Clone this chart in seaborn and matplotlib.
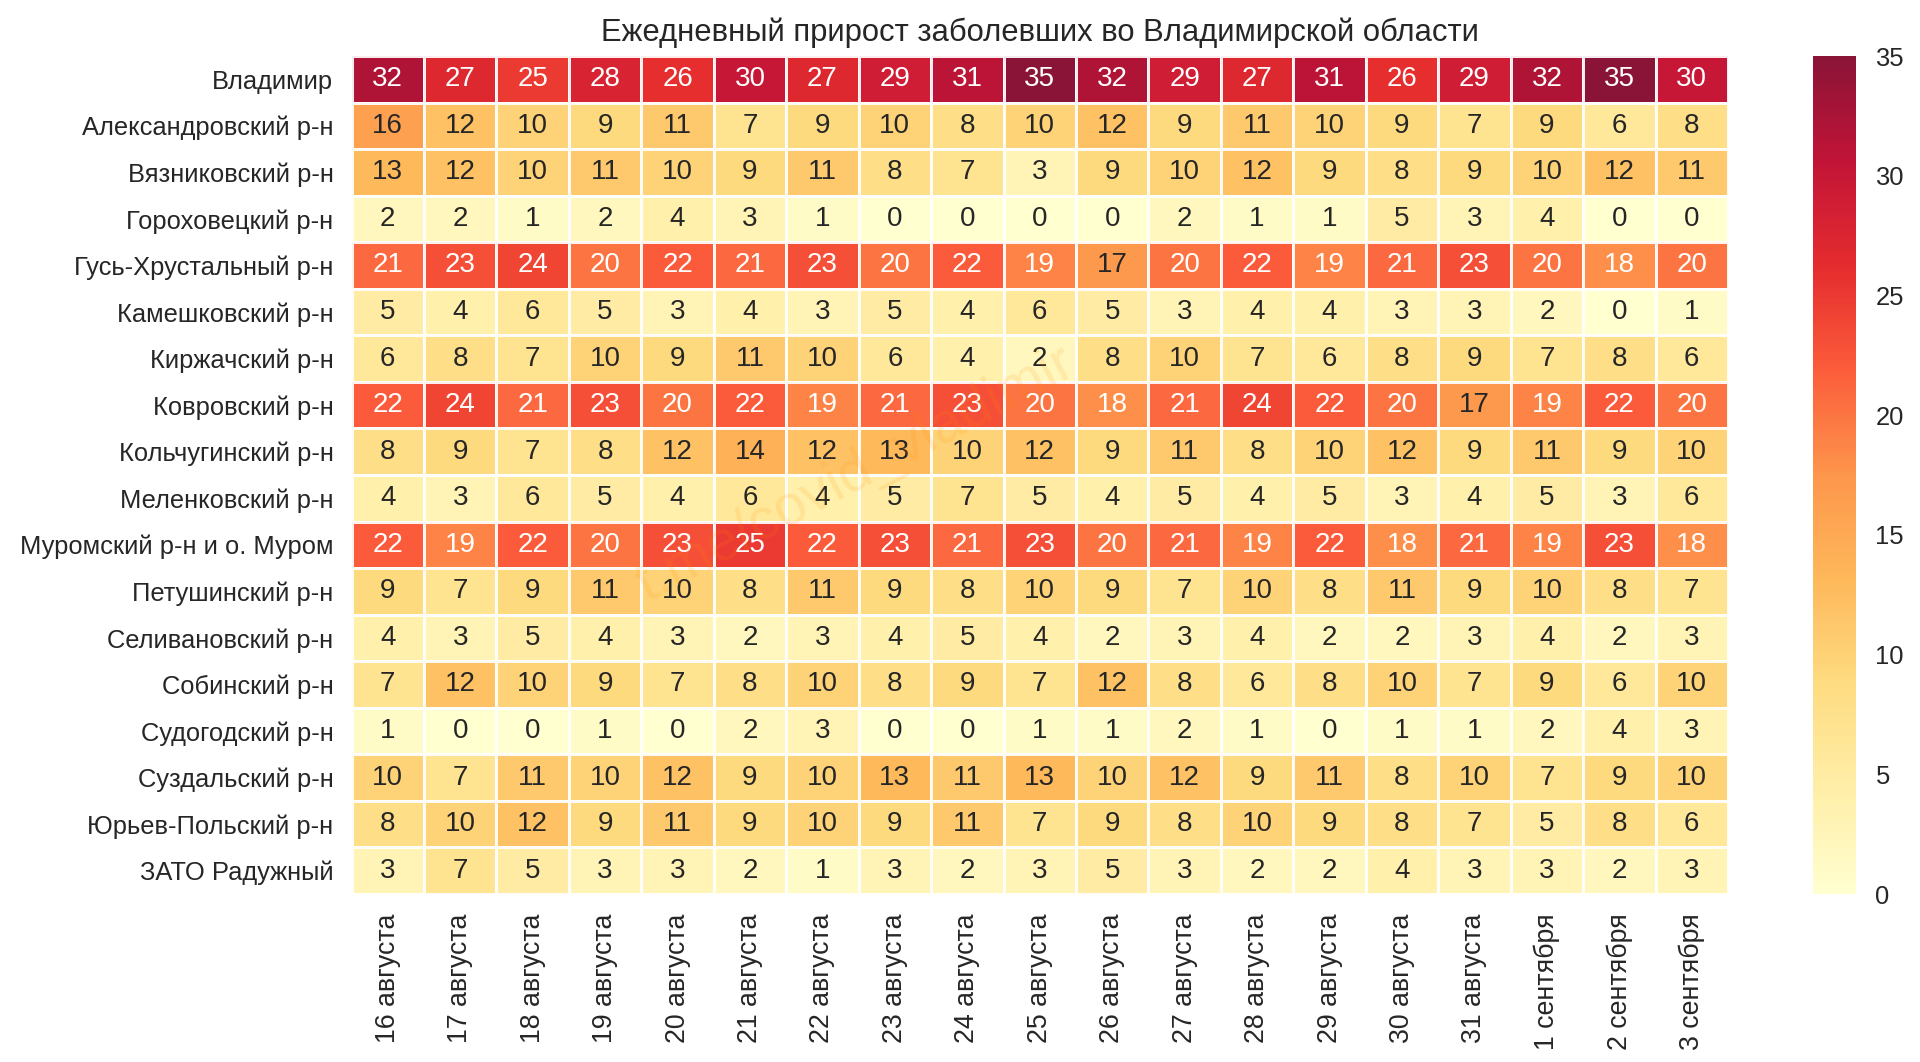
import numpy as np
import pandas as pd
import seaborn as sns
import matplotlib
matplotlib.use("Agg")
import matplotlib.pyplot as plt
from matplotlib.transforms import ScaledTranslation

districts = ["Владимир", "Александровский р-н", "Вязниковский р-н", "Гороховецкий р-н",
             "Гусь-Хрустальный р-н", "Камешковский р-н", "Киржачский р-н", "Ковровский р-н",
             "Кольчугинский р-н", "Меленковский р-н", "Муромский р-н и о. Муром",
             "Петушинский р-н", "Селивановский р-н", "Собинский р-н", "Судогодский р-н",
             "Суздальский р-н", "Юрьев-Польский р-н", "ЗАТО Радужный"]
dates = ["16 августа", "17 августа", "18 августа", "19 августа", "20 августа", "21 августа",
         "22 августа", "23 августа", "24 августа", "25 августа", "26 августа", "27 августа",
         "28 августа", "29 августа", "30 августа", "31 августа", "1 сентября", "2 сентября",
         "3 сентября"]

vladimir = [32,27,25,28,26,30,27,29,31,35,32,29,27,31,26,29,32,35,30]
aleksandrov = [16,12,10,9,11,7,9,10,8,10,12,9,11,10,9,7,9,6,8]
vyazniki = [13,12,10,11,10,9,11,8,7,3,9,10,12,9,8,9,10,12,11]
gorokhovets = [2,2,1,2,4,3,1,0,0,0,0,2,1,1,5,3,4,0,0]
gus = [21,23,24,20,22,21,23,20,22,19,17,20,22,19,21,23,20,18,20]
kameshkovo = [5,4,6,5,3,4,3,5,4,6,5,3,4,4,3,3,2,0,1]
kirzhach = [6,8,7,10,9,11,10,6,4,2,8,10,7,6,8,9,7,8,6]
kovrov = [22,24,21,23,20,22,19,21,23,20,18,21,24,22,20,17,19,22,20]
kolchugino = [8,9,7,8,12,14,12,13,10,12,9,11,8,10,12,9,11,9,10]
melenki = [4,3,6,5,4,6,4,5,7,5,4,5,4,5,3,4,5,3,6]
murom = [22,19,22,20,23,25,22,23,21,23,20,21,19,22,18,21,19,23,18]
petushki = [9,7,9,11,10,8,11,9,8,10,9,7,10,8,11,9,10,8,7]
selivanovo = [4,3,5,4,3,2,3,4,5,4,2,3,4,2,2,3,4,2,3]
sobinka = [7,12,10,9,7,8,10,8,9,7,12,8,6,8,10,7,9,6,10]
sudogda = [1,0,0,1,0,2,3,0,0,1,1,2,1,0,1,1,2,4,3]
suzdal = [10,7,11,10,12,9,10,13,11,13,10,12,9,11,8,10,7,9,10]
yuryev = [8,10,12,9,11,9,10,9,11,7,9,8,10,9,8,7,5,8,6]
raduzhny = [3,7,5,3,3,2,1,3,2,3,5,3,2,2,4,3,3,2,3]

df = pd.DataFrame([vladimir, aleksandrov, vyazniki, gorokhovets, gus, kameshkovo, kirzhach,
                   kovrov, kolchugino, melenki, murom, petushki, selivanovo, sobinka, sudogda,
                   suzdal, yuryev, raduzhny], index=districts, columns=dates)

sns.set_theme(style="white")
plt.rcParams['font.family'] = ['Liberation Sans', 'DejaVu Sans']

W, H = 1920, 1062
fig = plt.figure(figsize=(W/100, H/100), dpi=100)
ax = fig.add_axes([351.5/W, 1-894/H, (1728-351.5)/W, (894-56)/H])
cax = fig.add_axes([1813/W, 1-894/H, (1856-1813)/W, (894-56)/H])

sns.heatmap(df, ax=ax, cbar_ax=cax, cmap="YlOrRd", vmin=0, vmax=35, annot=True, fmt="d",
            linewidths=2, linecolor="white", alpha=0.92, annot_kws={"size": 20})

ax.set_title("Ежедневный прирост заболевших во Владимирской области", fontsize=22.3,
             color=".15", pad=10.5)
ax.set_xlabel("")
ax.set_ylabel("")
ax.tick_params(axis="x", length=0, labelsize=19.3, colors=".15", pad=14)
ax.tick_params(axis="y", length=0, labelsize=18.4, colors=".15", pad=13)
plt.setp(ax.get_xticklabels(), rotation=90)
plt.setp(ax.get_yticklabels(), rotation=0)
shift = ScaledTranslation(0, -2.4/100, fig.dpi_scale_trans)
for lab in ax.get_yticklabels():
    lab.set_transform(lab.get_transform() + shift)
cax.tick_params(length=0, labelsize=18.4, colors=".15", pad=14)

fig.text(855/W, 1-475/H, "t.me/covid_vladimir", fontsize=41, color="#ff8c00", alpha=0.13,
         rotation=28, rotation_mode="anchor", ha="center", va="center", zorder=5)

fig.savefig("out.png", dpi=100)
